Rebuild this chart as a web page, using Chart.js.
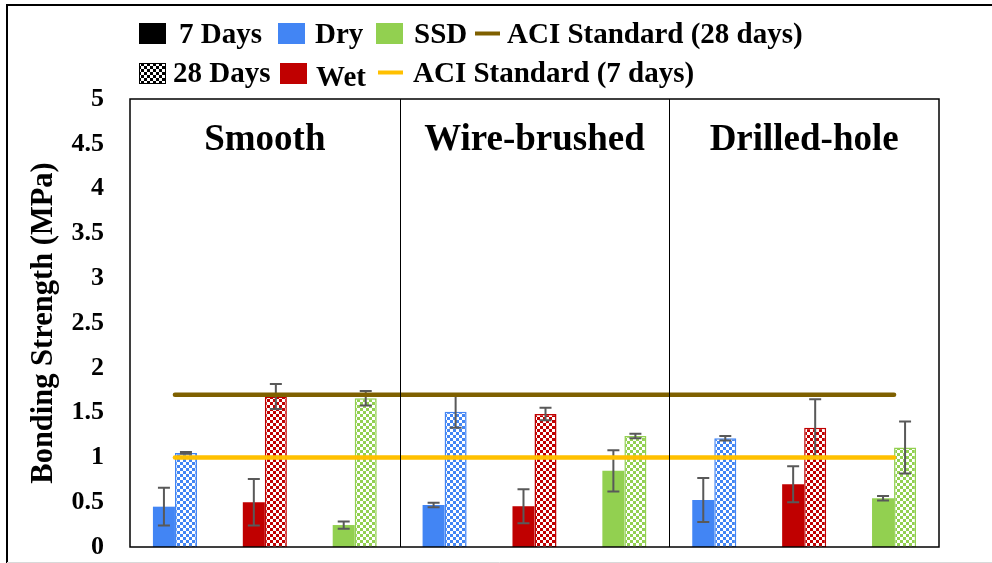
<!DOCTYPE html>
<html>
<head>
<meta charset="utf-8">
<title>Bonding Strength</title>
<script src="https://cdn.jsdelivr.net/npm/chart.js@4.4.1/dist/chart.umd.min.js"></script>
<style>
  html, body { margin: 0; padding: 0; background: #ffffff; }
  #wrap { position: relative; width: 992px; height: 563px; }
  canvas { display: block; }
</style>
</head>
<body>
<div id="wrap"><canvas id="chart" width="992" height="563"></canvas></div>
<script>
// Surface preparation groups and moisture condition per bar pair
const surfaceGroups = ['Smooth', 'Wire-brushed', 'Drilled-hole'];
const conditions = ['Dry', 'Wet', 'SSD', 'Dry', 'Wet', 'SSD', 'Dry', 'Wet', 'SSD'];

// Mean bonding strength (MPa) and error half-width
const days7 = [0.45, 0.50, 0.245, 0.47, 0.455, 0.85, 0.525, 0.70, 0.545];
const days7Err = [0.21, 0.26, 0.04, 0.025, 0.19, 0.23, 0.245, 0.20, 0.025];
const days28 = [1.05, 1.68, 1.66, 1.51, 1.485, 1.24, 1.215, 1.33, 1.11];
const days28Err = [0.01, 0.14, 0.08, 0.18, 0.07, 0.025, 0.025, 0.32, 0.29];

// ACI standard reference levels
const aci28Days = [1.7, 1.7, 1.7, 1.7, 1.7, 1.7, 1.7, 1.7, 1.7];
const aci7Days = [1.0, 1.0, 1.0, 1.0, 1.0, 1.0, 1.0, 1.0, 1.0];

// Y axis range
const yMin = 0, yMax = 5, yStep = 0.5;

const conditionColors = { Dry: '#4285F4', Wet: '#C00000', SSD: '#92D050' };
const FONT = '"Liberation Serif", "Times New Roman", serif';

function checker(color, cell) {
  const c = document.createElement('canvas');
  c.width = cell * 2; c.height = cell * 2;
  const g = c.getContext('2d');
  g.fillStyle = '#ffffff';
  g.fillRect(0, 0, c.width, c.height);
  g.fillStyle = color;
  g.fillRect(0, 0, cell, cell);
  g.fillRect(cell, cell, cell, cell);
  return g.createPattern(c, 'repeat');
}

const solidFill = conditions.map(c => conditionColors[c]);
const patternCache = {};
const checkerFill = conditions.map(c => patternCache[c] || (patternCache[c] = checker(conditionColors[c], 3)));

// Error bars drawn right after each bar dataset, beneath the reference lines
const errorBars = {
  id: 'errorBars',
  afterDatasetDraw(chart, args) {
    const ds = chart.data.datasets[args.index];
    if (!ds.errors) return;
    const y = chart.scales.y;
    const ctx = chart.ctx;
    ctx.save();
    ctx.strokeStyle = '#595959';
    ctx.lineWidth = 2;
    args.meta.data.forEach((bar, i) => {
      const v = ds.data[i], e = ds.errors[i];
      const x = bar.x;
      const yt = y.getPixelForValue(v + e);
      const yb = y.getPixelForValue(v - e);
      ctx.beginPath();
      ctx.moveTo(x, yt); ctx.lineTo(x, yb);
      ctx.moveTo(x - 6, yt); ctx.lineTo(x + 6, yt);
      ctx.moveTo(x - 6, yb); ctx.lineTo(x + 6, yb);
      ctx.stroke();
    });
    ctx.restore();
  }
};

// Plot frame, group separators and group titles
const frameAndGroups = {
  id: 'frameAndGroups',
  beforeDraw(chart) {
    const ctx = chart.ctx;
    ctx.save();
    ctx.fillStyle = '#ffffff';
    ctx.fillRect(0, 0, chart.width, chart.height);
    // outer picture border
    ctx.strokeStyle = '#000000';
    ctx.lineWidth = 2;
    ctx.beginPath();
    ctx.moveTo(7, 563); ctx.lineTo(7, 5); ctx.lineTo(992, 5);
    ctx.stroke();
    ctx.strokeStyle = '#d9d9d9';
    ctx.lineWidth = 1;
    ctx.beginPath();
    ctx.moveTo(7, 562.5); ctx.lineTo(992, 562.5);
    ctx.stroke();
    ctx.restore();
  },
  afterDraw(chart) {
    const { ctx, chartArea: a, scales: { x, y } } = chart;
    ctx.save();
    ctx.strokeStyle = '#000000';
    ctx.lineWidth = 1;
    const per = conditions.length / surfaceGroups.length;
    for (let g = 1; g < surfaceGroups.length; g++) {
      const xs = Math.round((x.getPixelForValue(g * per - 1) + x.getPixelForValue(g * per)) / 2) + 0.5;
      ctx.beginPath();
      ctx.moveTo(xs, a.top); ctx.lineTo(xs, a.bottom);
      ctx.stroke();
    }
    ctx.lineWidth = 1.5;
    ctx.strokeRect(a.left, a.top, a.right - a.left, a.bottom - a.top);
    ctx.fillStyle = '#000000';
    ctx.font = 'bold 37px ' + FONT;
    ctx.textAlign = 'center';
    ctx.textBaseline = 'alphabetic';
    surfaceGroups.forEach((name, g) => {
      const xc = x.getPixelForValue(g * per + (per - 1) / 2);
      ctx.fillText(name, xc, y.getPixelForValue(4.43));
    });
    ctx.restore();
  }
};

// Two-row legend above the plot
const legendRows = {
  id: 'legendRows',
  afterDraw(chart) {
    const ctx = chart.ctx;
    ctx.save();
    ctx.font = 'bold 29px ' + FONT;
    ctx.textBaseline = 'alphabetic';
    ctx.fillStyle = '#000000';
    const box = (x, y, fill) => {
      ctx.fillStyle = fill;
      ctx.fillRect(x, y, 27, 21);
    };
    const line = (x, y, color) => {
      ctx.strokeStyle = color;
      ctx.lineWidth = 4;
      ctx.beginPath();
      ctx.moveTo(x, y); ctx.lineTo(x + 25, y);
      ctx.stroke();
    };
    const text = (s, x, y) => { ctx.fillStyle = '#000000'; ctx.fillText(s, x, y); };

    box(139, 23, '#000000'); text('7 Days', 179, 43);
    box(278, 23, conditionColors.Dry); text('Dry', 315, 43);
    box(376, 23, conditionColors.SSD); text('SSD', 414, 43);
    line(475, 33.5, '#7F6000'); text('ACI Standard (28 days)', 507, 43);

    box(139, 63, checker('#000000', 3));
    ctx.strokeStyle = '#000000'; ctx.lineWidth = 1;
    ctx.strokeRect(139.5, 63.5, 26, 20);
    text('28 Days', 173, 82);
    box(280, 63, conditionColors.Wet); text('Wet', 316, 86);
    line(378, 72.5, '#FFC000'); text('ACI Standard (7 days)', 413, 82);
    ctx.restore();
  }
};

new Chart(document.getElementById('chart'), {
  data: {
    labels: conditions,
    datasets: [
      {
        type: 'line', label: 'ACI Standard (28 days)', data: aci28Days,
        borderColor: '#7F6000', borderWidth: 4.5, borderCapStyle: 'round',
        pointRadius: 0, order: 0
      },
      {
        type: 'line', label: 'ACI Standard (7 days)', data: aci7Days,
        borderColor: '#FFC000', borderWidth: 4.5, borderCapStyle: 'round',
        pointRadius: 0, order: 0
      },
      {
        type: 'bar', label: '7 Days', data: days7, errors: days7Err,
        backgroundColor: solidFill, borderColor: solidFill, borderWidth: 0, order: 1
      },
      {
        type: 'bar', label: '28 Days', data: days28, errors: days28Err,
        backgroundColor: checkerFill, borderColor: solidFill, borderWidth: 1.5, order: 2
      }
    ]
  },
  options: {
    responsive: false,
    animation: false,
    events: [],
    layout: { padding: { top: 99, right: 53, bottom: 16, left: 0 } },
    datasets: { bar: { categoryPercentage: 0.49, barPercentage: 1.0 } },
    plugins: { legend: { display: false }, tooltip: { enabled: false } },
    scales: {
      x: { display: false, offset: true },
      y: {
        min: yMin, max: yMax,
        afterFit(scale) {
          scale.width = 130;
          scale.paddingTop = 0;
          scale.paddingBottom = 0;
        },
        ticks: {
          stepSize: yStep, padding: 26, color: '#000000',
          font: { family: FONT, size: 26, weight: 'bold' },
          callback: v => String(Math.round(v * 10) / 10)
        },
        grid: { display: false, drawTicks: false },
        border: { display: false },
        title: {
          display: true, text: 'Bonding Strength (MPa)', color: '#000000',
          font: { family: FONT, size: 30.5, weight: 'bold' },
          padding: { top: 26, bottom: 0 }
        }
      }
    }
  },
  plugins: [frameAndGroups, errorBars, legendRows]
});
</script>
</body>
</html>
